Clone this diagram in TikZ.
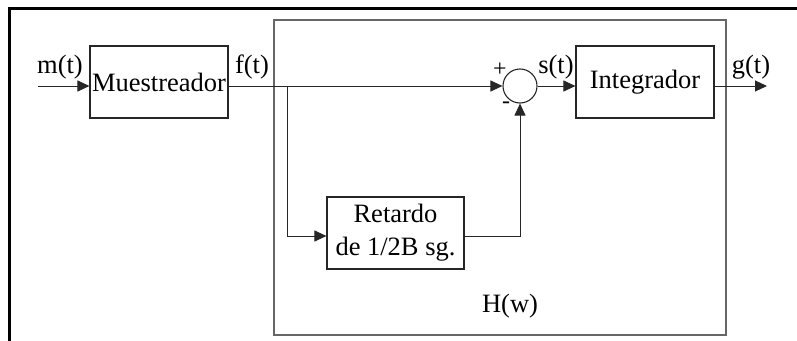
\documentclass[tikz,border=0pt]{standalone}
\usepackage{fontspec}
\setmainfont{Liberation Serif}
\usetikzlibrary{arrows.meta}
\begin{document}
\begin{tikzpicture}[x=1pt,y=-1pt,
  font=\fontsize{26.5}{33}\selectfont,
  blockbox/.style={draw=black!85,line width=1.1pt,rectangle,minimum width=138pt,minimum height=72pt,inner sep=0pt,align=center},
  sumcirc/.style={draw=black!85,line width=1.1pt,circle,minimum size=34pt,inner sep=0pt},
  arr/.style={draw=black!85,line width=1pt,-{Triangle[length=12pt,width=11pt]}},
  wire/.style={draw=black!85,line width=1pt},
  lbl/.style={anchor=base,inner sep=0pt}]
\useasboundingbox (0,0) rectangle (797,340);
% outer frame (partially visible)
\draw[line width=3pt,black] (9,341) -- (9,8) -- (798,8);
% H(w) box
\node[draw=black!60,line width=1.4pt,rectangle,minimum width=452pt,minimum height=315pt,inner sep=0pt] (hbox) at (500,177.5) {};
\node[lbl] (hlbl) at (510,312) {H(w)};
% blocks
\node[blockbox] (mues) at (159,82) {Muestreador};
\node[blockbox] (integ) at (645,82) {Integrador};
\node[blockbox,minimum width=137pt] (ret) at (395.5,233) {Retardo\\de 1/2B sg.};
\node[sumcirc] (sum) at (520,86) {};
% signs
\node[inner sep=0pt,font=\fontsize{24}{26}\selectfont] (plus) at (500,70) {+};
\node[inner sep=0pt,font=\fontsize{24}{26}\selectfont] (minus) at (506,105) {-};
% coordinates
\coordinate (min) at (38,86);
\coordinate (br) at (287,86);
\coordinate (gout) at (767,86);
% connectors
\draw[arr] (min) -- (mues.west |- sum);
\draw[arr] (mues.east |- sum) -- (sum.west);
\draw[arr] (br) |- ([yshift=-3pt]ret.west);
\draw[arr] ([yshift=-3pt]ret.east) -| (sum.south);
\draw[arr] (sum.east) -- (integ.west |- sum);
\draw[arr] (integ.east |- sum) -- (gout);
% labels
\node[lbl] (mlbl) at (60,73) {m(t)};
\node[lbl] (flbl) at (252,73) {f(t)};
\node[lbl] (slbl) at (556,73) {s(t)};
\node[lbl] (glbl) at (751,73) {g(t)};
\end{tikzpicture}
\end{document}
